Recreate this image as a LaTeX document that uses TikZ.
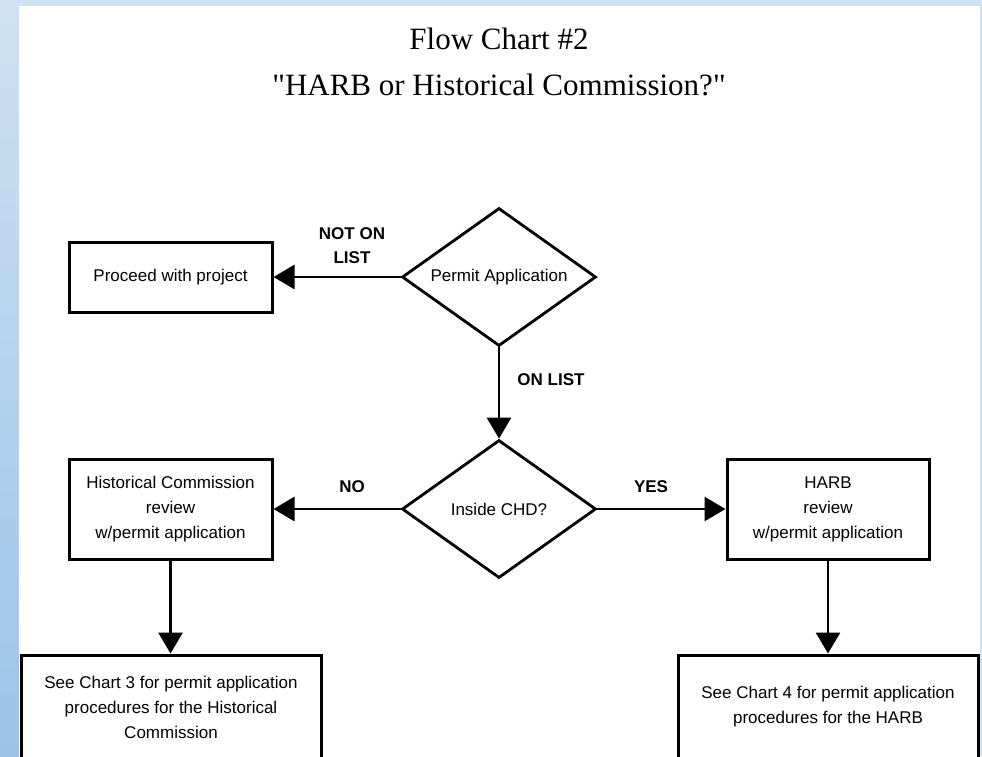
\documentclass[tikz,border=0pt]{standalone}
\usepackage{fontspec}
\setmainfont{Liberation Serif}
\setsansfont{Liberation Sans}
\usepackage{xcolor}
\usetikzlibrary{arrows.meta, shapes.geometric}

\definecolor{bandtop}{RGB}{207,225,242}
\definecolor{bandbot}{RGB}{157,195,230}

\tikzset{
  box/.style={draw, line width=3pt, align=center, inner sep=0pt,
    font=\sffamily\fontsize{17}{25}\selectfont},
  decision/.style={diamond, draw, line width=2.8pt, aspect=1.4,
    minimum width=194pt, minimum height=138pt, inner sep=0pt,
    font=\sffamily\fontsize{17}{25}\selectfont},
  answer/.style={align=center, font=\sffamily\bfseries\fontsize{17}{24}\selectfont},
  flow/.style={line width=2.8pt, -{Triangle[length=21pt, width=24pt]}}
}

\begin{document}
\begin{tikzpicture}[x=1pt, y=-1pt]
% \draw[help lines, dashed, red] (0,0) grid[step=50] (982,756);
\useasboundingbox (0,0) rectangle (982,756);
\clip (0,0) rectangle (982,756);
\fill[bandtop] (0,0) rectangle (982,756);
\shade[top color=bandtop, bottom color=bandbot] (0,0) rectangle (19,756);
\fill[white] (19,6) rectangle (980,756);

\node[align=center, font=\fontsize{31}{46}\selectfont] (title) at (499,62)
  {Flow Chart \#2\\\textquotedbl HARB or Historical Commission?\textquotedbl};

\node[decision] (permit) at (499,277) {Permit Application};
\node[decision] (chd) at (499,509) {Inside CHD?};
\node[box, minimum width=203pt, minimum height=70pt] (proceed) at (170.5,277) {Proceed with project};
\node[box, minimum width=203pt, minimum height=100pt] (hcreview) at (170.5,509)
  {Historical Commission\\review\\w/permit application};
\node[box, minimum width=202pt, minimum height=100pt] (harbreview) at (828,509)
  {HARB\\review\\w/permit application};
\node[box, minimum width=300pt, minimum height=104pt] (chartthree) at (171,707)
  {See Chart 3 for permit application\\procedures for the Historical\\Commission};
\node[box, minimum width=300pt, minimum height=104pt] (chartfour) at (828,707)
  {See Chart 4 for permit application\\procedures for the HARB};

\draw[flow] (permit.west) -- (proceed.east);
\draw[flow] (permit.south) -- (chd.north);
\draw[flow] (chd.west) -- (hcreview.east);
\draw[flow] (chd.east) -- (harbreview.west);
\draw[flow] (hcreview.south) -- (hcreview.south |- chartthree.north);
\draw[flow] (harbreview.south) -- (chartfour.north);

\node[answer] (notonlist) at (352,246) {NOT ON\\LIST};
\node[answer] (onlist) at (551,380) {ON LIST};
\node[answer] (no) at (352,487) {NO};
\node[answer] (yes) at (651,487) {YES};
\end{tikzpicture}
\end{document}
